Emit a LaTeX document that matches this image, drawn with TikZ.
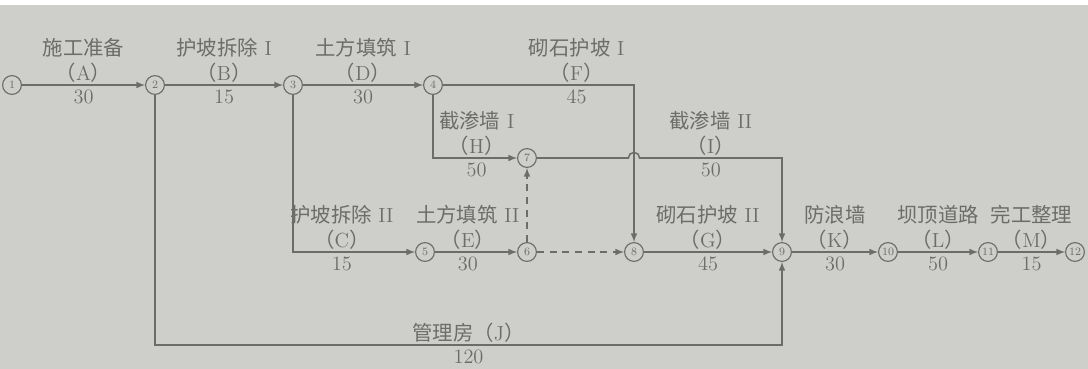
\documentclass[tikz,border=0pt]{standalone}
\usepackage{fontspec}
\newfontfamily\cjk{Noto Sans CJK SC}
\usetikzlibrary{calc}
\definecolor{paper}{RGB}{206,206,203}
\definecolor{ink}{RGB}{108,108,106}
\newcommand{\zh}[1]{{\cjk #1}}
\newcommand{\lett}[1]{\zh{（}#1\zh{）}}

\begin{document}
\begin{tikzpicture}[x=0.025cm,y=-0.025cm,
    ev/.style={circle,draw=ink,fill=paper,line width=0.8pt,inner sep=0pt,
      minimum size=0.47cm,text=ink,font=\fontsize{8}{9}\selectfont},
    act/.style={draw=ink,line width=1.1pt,-latex},
    dum/.style={act,dash pattern=on 5pt off 4pt},
    lab/.style={align=center,text=ink,inner sep=1pt,font=\fontsize{14.5}{18}\selectfont},
    dur/.style={text=ink,inner sep=3pt,font=\fontsize{14.5}{16}\selectfont}]
    \clip (0,0) rectangle (1088,369);
    \fill[paper] (0,0) rectangle (1088,369);
    \fill[white] (0,0) rectangle (1088,5);
    \node[ev] (n1) at (12,85) {1};
    \node[ev] (n2) at (155,85) {2};
    \node[ev] (n3) at (293,85) {3};
    \node[ev] (n4) at (433,85) {4};
    \node[ev] (n7) at (527,158) {7};
    \node[ev] (n5) at (425,252) {5};
    \node[ev] (n6) at (527,252) {6};
    \node[ev] (n8) at (634,252) {8};
    \node[ev] (n9) at (782,252) {9};
    \node[ev] (n10) at (888,252) {10};
    \node[ev] (n11) at (988,252) {11};
    \node[ev] (n12) at (1075,252) {12};
    \coordinate (jr) at (782,345);
    \coordinate (bump) at ($(n7 -| n8)+(-4pt,0)$);
    \draw[act] (n1) -- (n2)
      node[midway,above,lab] (tA) {\zh{施工准备}\\\lett{A}}
      node[midway,below,dur] (dA) {30};
    \draw[act] (n2) -- (n3)
      node[midway,above,lab] (tB) {\zh{护坡拆除} I\\\lett{B}}
      node[midway,below,dur] (dB) {15};
    \draw[act] (n3) -- (n4)
      node[midway,above,lab] (tD) {\zh{土方填筑} I\\\lett{D}}
      node[midway,below,dur] (dD) {30};
    \draw[act] (n4) -| node[pos=.35,above,lab] (tF) {\zh{砌石护坡} I\\\lett{F}}
      node[pos=.35,below,dur] (dF) {45} (n8);
    \draw[act] (n4) |- node[pos=.76,above,lab] (tH) {\zh{截渗墙} I\\\lett{H}}
      node[pos=.76,below,dur] (dH) {50} (n7);
    \draw[act] (n7) -- (bump) arc (180:0:4pt)
      -| node[pos=.25,above,lab] (tI) {\zh{截渗墙} II\\\lett{I}}
      node[pos=.25,below,dur] (dI) {50} (n9);
    \draw[act] (n3) |- node[pos=.7,above,lab] (tC) {\zh{护坡拆除} II\\\lett{C}}
      node[pos=.7,below,dur] (dC) {15} (n5);
    \draw[act] (n5) -- (n6)
      node[pos=.4,above,lab] (tE) {\zh{土方填筑} II\\\lett{E}}
      node[pos=.4,below,dur] (dE) {30};
    \draw[dum] (n6) -- (n7);
    \draw[dum] (n6) -- (n8);
    \draw[act] (n8) -- (n9)
      node[midway,above,lab] (tG) {\zh{砌石护坡} II\\\lett{G}}
      node[midway,below,dur] (dG) {45};
    \draw[act] (n9) -- (n10)
      node[midway,above,lab] (tK) {\zh{防浪墙}\\\lett{K}}
      node[midway,below,dur] (dK) {30};
    \draw[act] (n10) -- (n11)
      node[midway,above,lab] (tL) {\zh{坝顶道路}\\\lett{L}}
      node[midway,below,dur] (dL) {50};
    \draw[act] (n11) -- (n12)
      node[midway,above,lab] (tM) {\zh{完工整理}\\\lett{M}}
      node[midway,below,dur] (dM) {15};
    \draw[act] (n2) |- node[pos=.75,above,lab] (tJ) {\zh{管理房}\lett{J}}
      node[pos=.75,below,dur] (dJ) {120} (jr) -- (n9);
\end{tikzpicture}
\end{document}
